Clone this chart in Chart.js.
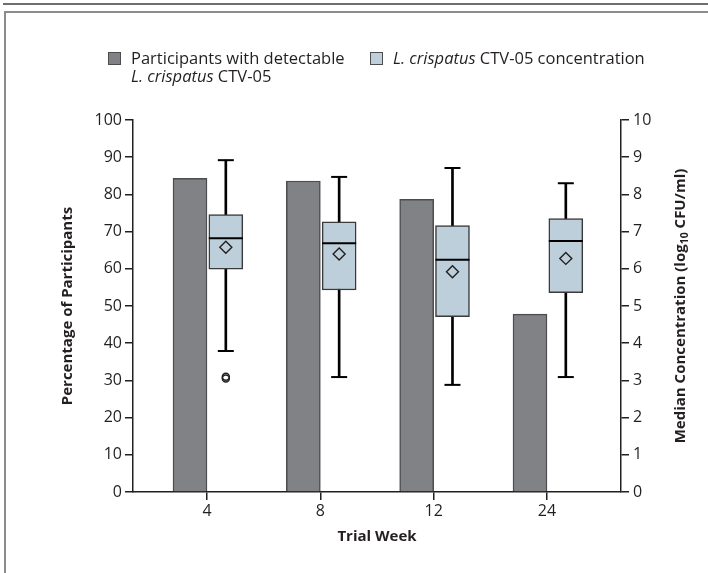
<!DOCTYPE html>
<html>
<head>
<meta charset="utf-8">
<script src="https://cdn.jsdelivr.net/npm/chart.js@4.4.1/dist/chart.umd.min.js"></script>
<style>
  body { margin: 0; background: #fff; }
  #wrap { position: relative; width: 708px; height: 573px; overflow: hidden; font-family: "Open Sans", sans-serif; color: #231f20; }
  #topline { position: absolute; left: 3px; top: 3px; width: 705px; height: 2px; background: #6d6e70; }
  #frame { position: absolute; left: 4px; top: 11px; width: 720px; height: 600px; border-left: 2px solid #8c8c8c; border-top: 2px solid #8c8c8c; }
  #chart { position: absolute; left: 0; top: 0; }
  .key { position: absolute; font-size: 16.5px; line-height: 18px; }
  .key .sw { position: absolute; left: 0; top: 0; width: 11px; height: 11px; border: 1.5px solid #4d4d4f; }
  .key .txt { position: absolute; left: 23px; top: -3px; white-space: nowrap; }
</style>
</head>
<body>
<div id="wrap">
  <div id="topline"></div>
  <div id="frame"></div>
  <canvas id="chart" width="708" height="573"></canvas>
  <div class="key" style="left:108px; top:52px;">
    <div class="sw" style="background:#808285;"></div>
    <div class="txt">Participants with detectable<br><i>L. crispatus</i> CTV-05</div>
  </div>
  <div class="key" style="left:370px; top:52px;">
    <div class="sw" style="background:#bccfdb;"></div>
    <div class="txt"><i>L. crispatus</i> CTV-05 concentration</div>
  </div>
</div>
<script>
// Trial weeks on the x axis
const weeks = [4, 8, 12, 24];

// Bars: % of participants with detectable L. crispatus CTV-05 (left axis)
const detectPct = [84.3, 83.6, 78.7, 47.8];

// Box plots: concentration, log10 CFU/ml (right axis)
const whiskerLow = [3.79, 3.09, 2.88, 3.09];
const q1 = [5.99, 5.43, 4.71, 5.36];
const medians = [6.82, 6.69, 6.24, 6.75];
const q3 = [7.46, 7.26, 7.16, 7.35];
const whiskerHigh = [8.92, 8.47, 8.71, 8.30];
const means = [6.58, 6.40, 5.92, 6.28];

// Outliers (week index, value)
const outlierWeek = [0, 0];
const outlierValue = [3.1, 3.05];

const ink = '#231f20';
const tickFont = { family: '"Open Sans"', size: 16 };
const titleFont = { family: '"Open Sans"', size: 15, weight: 'bold' };

// bars sit left of each tick, boxes right of it
const barShift = -0.15;
const boxShift = 0.166;
const at = (i, s) => i + 1 + s;

const ctx = document.getElementById('chart').getContext('2d');

// right axis title with a subscript
const rightTitle = {
  id: 'rightTitle',
  afterDraw(chart) {
    const c = chart.ctx;
    const area = chart.chartArea;
    const parts = [
      ['Median Concentration (log', 'bold 15px "Open Sans"', 0],
      ['10', 'bold 10.5px "Open Sans"', 4],
      [' CFU/ml)', 'bold 15px "Open Sans"', 0]
    ];
    c.save();
    c.translate(chart.width - 27, (area.top + area.bottom) / 2);
    c.rotate(-Math.PI / 2);
    c.fillStyle = ink;
    c.textBaseline = 'middle';
    let total = 0;
    parts.forEach(p => { c.font = p[1]; total += c.measureText(p[0]).width; });
    let x = -total / 2;
    parts.forEach(p => {
      c.font = p[1];
      c.fillText(p[0], x, p[2]);
      x += c.measureText(p[0]).width;
    });
    c.restore();
  }
};

new Chart(ctx, {
  type: 'bar',
  data: {
    datasets: [
      {
        type: 'scatter', label: 'Mean', yAxisID: 'y2',
        data: means.map((v, i) => ({ x: at(i, boxShift), y: v })),
        pointStyle: 'rectRot', pointRadius: 6,
        pointBackgroundColor: 'rgba(0,0,0,0)', pointBorderColor: ink, pointBorderWidth: 1.4,
        order: 0
      },
      {
        type: 'scatter', label: 'Median', yAxisID: 'y2',
        data: medians.map((v, i) => ({ x: at(i, boxShift), y: v })),
        pointStyle: 'line', pointRadius: 17, pointBorderColor: '#000', pointBorderWidth: 2,
        order: 1
      },
      {
        type: 'scatter', label: 'Outliers', yAxisID: 'y2',
        data: outlierValue.map((v, k) => ({ x: at(outlierWeek[k], boxShift), y: v })),
        pointStyle: 'circle', pointRadius: 3.5,
        pointBackgroundColor: 'rgba(0,0,0,0)', pointBorderColor: ink, pointBorderWidth: 1.5,
        order: 1
      },
      {
        type: 'scatter', label: 'Caps', yAxisID: 'y2',
        data: whiskerLow.map((v, i) => ({ x: at(i, boxShift), y: v }))
          .concat(whiskerHigh.map((v, i) => ({ x: at(i, boxShift), y: v }))),
        pointStyle: 'line', pointRadius: 8, pointBorderColor: '#000', pointBorderWidth: 2,
        order: 2
      },
      {
        type: 'bar', label: 'Box', yAxisID: 'y2',
        data: q1.map((v, i) => ({ x: at(i, boxShift), y: [v, q3[i]] })),
        backgroundColor: '#bccfdb', borderColor: '#3a3a3a', borderWidth: 1.5,
        borderSkipped: false, barThickness: 34, grouped: false,
        order: 3
      },
      {
        type: 'bar', label: 'Whisker', yAxisID: 'y2',
        data: whiskerLow.map((v, i) => ({ x: at(i, boxShift), y: [v, whiskerHigh[i]] })),
        backgroundColor: '#000', borderWidth: 0, barThickness: 2, grouped: false,
        order: 4
      },
      {
        type: 'bar', label: 'Detectable', yAxisID: 'y',
        data: detectPct.map((v, i) => ({ x: at(i, barShift), y: v })),
        backgroundColor: '#808285', borderColor: '#4d4d4f', borderWidth: 1.5,
        borderSkipped: 'bottom', barThickness: 34, grouped: false,
        order: 5
      }
    ]
  },
  options: {
    responsive: false,
    animation: false,
    devicePixelRatio: 1,
    layout: { padding: { top: 120, left: 0, right: 0, bottom: 0 } },
    plugins: { legend: { display: false }, tooltip: { enabled: false } },
    scales: {
      x: {
        type: 'linear', min: 1 - 0.653, max: 4 + 0.653, offset: false,
        afterBuildTicks: s => { s.ticks = weeks.map((w, i) => ({ value: i + 1 })); },
        afterFit: s => { s.height = 81; },
        ticks: { callback: v => weeks[Math.round(v) - 1], font: tickFont, color: ink, padding: 2, maxRotation: 0, autoSkip: false },
        grid: { offset: false, drawOnChartArea: false, tickLength: 8, color: ink, lineWidth: 1.5 },
        border: { color: ink, width: 1.5 },
        title: { display: true, text: 'Trial Week', font: titleFont, color: ink, padding: { top: 0, bottom: 27 } }
      },
      y: {
        position: 'left', min: 0, max: 100,
        afterFit: s => { s.width = 133; },
        ticks: { stepSize: 10, font: tickFont, color: ink, padding: 3 },
        grid: { drawOnChartArea: false, tickLength: 8, color: ink, lineWidth: 1.5 },
        border: { color: ink, width: 1.5 },
        title: { display: true, text: 'Percentage of Participants', font: titleFont, color: ink, padding: { top: 59, bottom: 0 } }
      },
      y2: {
        position: 'right', min: 0, max: 10,
        afterFit: s => { s.width = 87; },
        ticks: { stepSize: 1, font: tickFont, color: ink, padding: 4 },
        grid: { drawOnChartArea: false, tickLength: 8, color: ink, lineWidth: 1.5 },
        border: { color: ink, width: 1.5 }
      }
    }
  },
  plugins: [rightTitle]
});
</script>
</body>
</html>
